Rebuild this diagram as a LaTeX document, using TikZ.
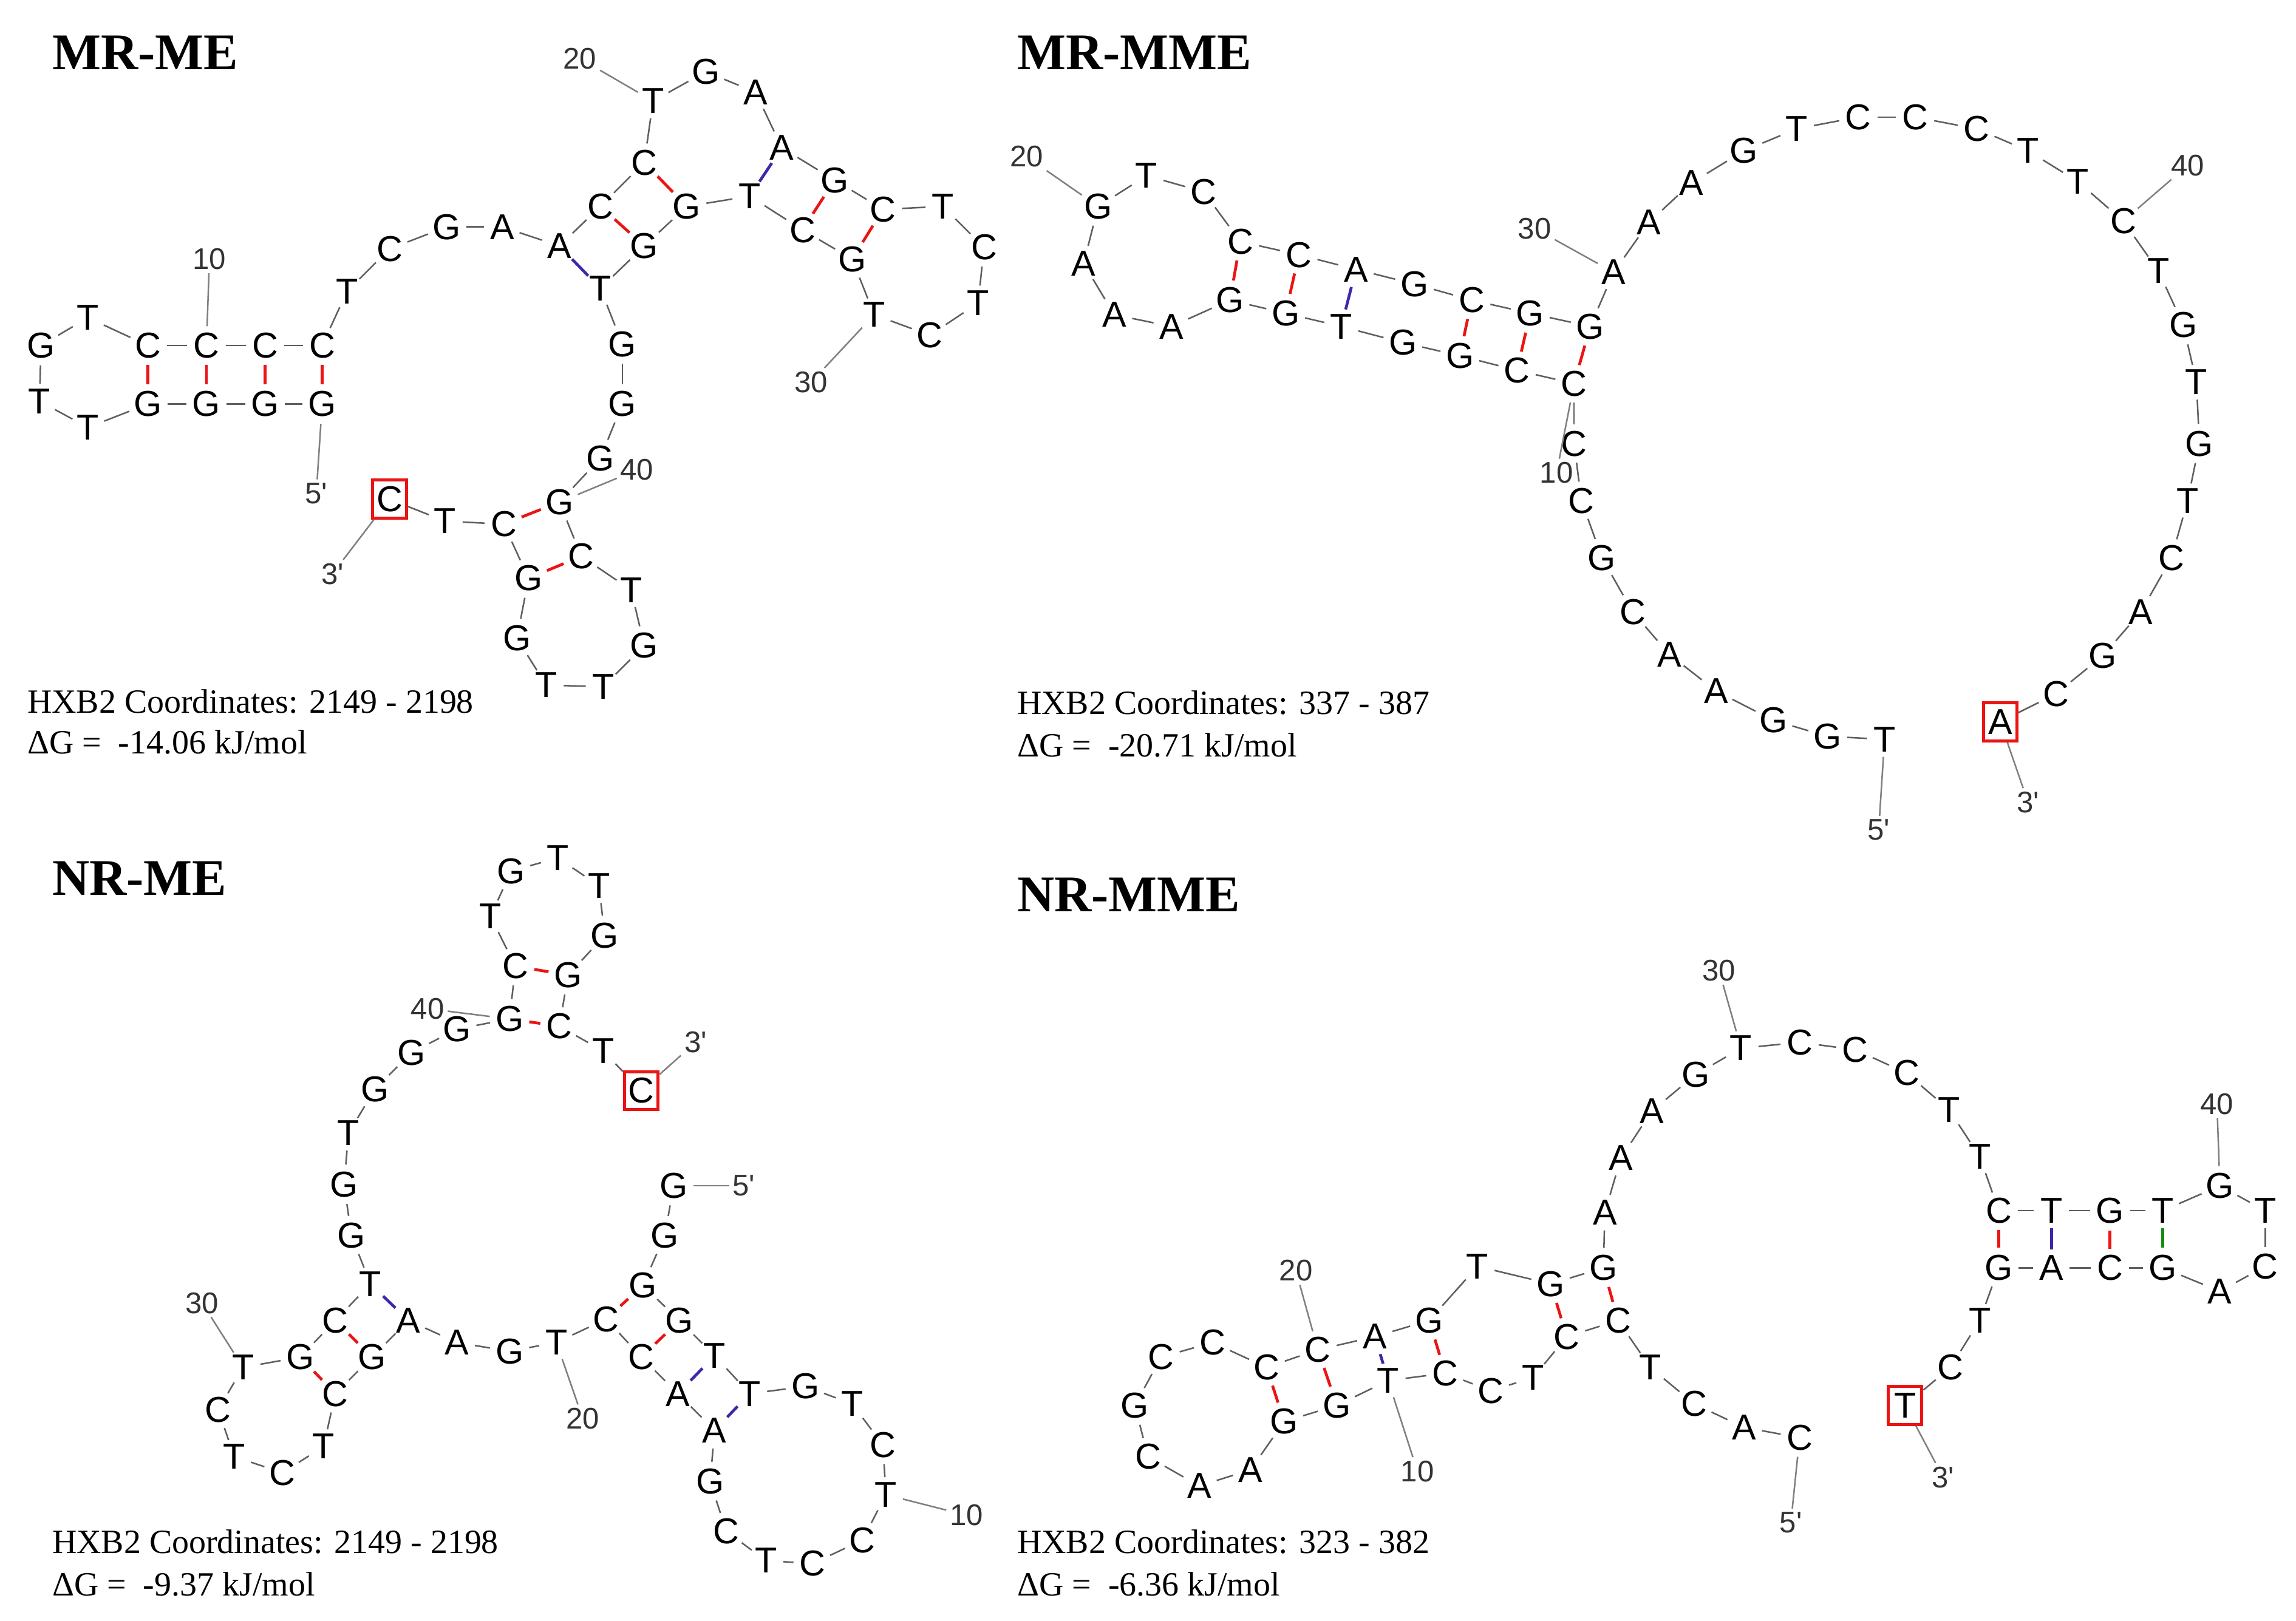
\documentclass[tikz,border=0pt]{standalone}
\usepackage{fontspec}
\setmainfont{Liberation Serif}
\newfontfamily\ntfont{Liberation Sans}
\definecolor{bbgray}{RGB}{95,95,95}
\definecolor{pr}{RGB}{235,20,20}
\definecolor{pb}{RGB}{60,40,170}
\definecolor{pg}{RGB}{20,140,20}
\tikzset{
  nt/.style={circle,inner sep=0pt,minimum size=2.1mm,font=\ntfont\fontsize{7}{7}\selectfont},
  bx/.style={rectangle,draw=pr,line width=0.6pt,minimum width=2.3mm,minimum height=2.6mm},
  bb/.style={draw=bbgray,line width=0.3pt},
  pairR/.style={draw=pr,line width=0.55pt},
  pairB/.style={draw=pb,line width=0.55pt},
  pairG/.style={draw=pg,line width=0.55pt},
  lbl/.style={inner sep=0.5pt,font=\ntfont\fontsize{5.8}{6}\selectfont,text=black!80},
  tk/.style={draw=gray,line width=0.3pt},
  ttl/.style={anchor=west,inner sep=0pt,font=\bfseries\fontsize{10}{12}\selectfont},
  crd/.style={anchor=west,inner sep=0pt,font=\fontsize{6.6}{7}\selectfont}
}
\begin{document}
\begin{tikzpicture}[x=0.1mm,y=-0.1mm]
\useasboundingbox (0,0) rectangle (1568,1107);
% ---------- Panel A: MR-ME
\foreach \i/\x/\y/\l in {1/220/276/G,2/181/276/G,3/141/276/G,4/101/276/G,5/60/292/T,6/27/274/T,7/28/236/G,8/60/217/T,9/101/236/C,10/141/236/C,11/181/236/C,12/220/236/C,13/237/199/T,14/266/170/C,15/305/155/G,16/343/155/A,17/382/168/A,18/410/141/C,19/440/111/C,20/446/69/T,21/482/49/G,22/516/63/A,23/534/101/A,24/570/123/G,25/603/143/C,26/644/141/T,27/672/169/C,28/668/207/T,29/635/229/C,30/597/215/T,31/582/177/G,32/548/157/C,33/512/134/T,34/469/141/G,35/440/168/G,36/410/197/T,37/425/235/G,38/425/276/G,39/410/313/G,40/382/343/G,41/397/380/C,42/431/403/T,43/440/441/G,44/412/469/T,45/373/468/T,46/353/436/G,47/361/395/G,48/344/358/C,49/304/356/T}
  {\node[nt] (a\i) at (\x,\y) {\l};}
\node[nt,bx] (a50) at (266,341) {C};
\foreach \i [evaluate=\i as \j using int(\i+1)] in {1,...,49} \draw[bb] (a\i) -- (a\j);
\foreach \p/\q in {9/4,10/3,11/2,12/1,18/35,19/34,24/32,25/31,40/48,41/47} \draw[pairR] (a\p) -- (a\q);
\foreach \p/\q in {17/36,23/33} \draw[pairB] (a\p) -- (a\q);
\foreach \i/\x/\y/\t in {10/143/177/10,20/396/40/20,30/554/261/30,40/435/321/40,1/216/337/5',50/227/392/3'}
  {\node[lbl] (al\i) at (\x,\y) {\t}; \draw[tk] (a\i) -- (al\i);}
\node[ttl] (ta) at (35,36) {MR-ME};
\node[crd] (ca1) at (18,479) {HXB2 Coordinates: 2149 - 2198};
\node[crd] (ca2) at (18,507) {ΔG =~ -14.06 kJ/mol};
% ---------- Panel B: MR-MME
\foreach \i/\x/\y/\l in {1/1287/505/T,2/1248/503/G,3/1211/492/G,4/1172/472/A,5/1140/447/A,6/1115/418/C,7/1094/381/G,8/1080/342/C,9/1075/303/C,10/1075/262/C,11/1036/253/C,12/997/243/G,13/958/234/G,14/916/223/T,15/878/214/G,16/840/205/G,17/800/223/A,18/761/215/A,19/740/180/A,20/750/141/G,21/783/120/T,22/822/131/C,23/847/165/C,24/887/174/C,25/926/184/A,26/966/194/G,27/1005/205/C,28/1045/214/G,29/1086/223/G,30/1102/186/A,31/1126/152/A,32/1155/125/A,33/1191/103/G,34/1227/88/T,35/1269/80/C,36/1308/80/C,37/1350/88/C,38/1385/103/T,39/1419/124/T,40/1450/151/C,41/1474/185/T,42/1491/222/G,43/1500/261/T,44/1502/303/G,45/1494/342/T,46/1483/381/C,47/1462/418/A,48/1436/448/G,49/1404/474/C}
  {\node[nt] (b\i) at (\x,\y) {\l};}
\node[nt,bx] (b50) at (1366,493) {A};
\foreach \i [evaluate=\i as \j using int(\i+1)] in {1,...,49} \draw[bb] (b\i) -- (b\j);
\foreach \p/\q in {10/29,11/28,12/27,15/24,16/23} \draw[pairR] (b\p) -- (b\q);
\draw[pairB] (b14) -- (b25);
\foreach \i/\x/\y/\t in {20/701/107/20,30/1048/156/30,40/1494/113/40,10/1063/323/10,1/1283/567/5',50/1385/548/3'}
  {\node[lbl] (bl\i) at (\x,\y) {\t}; \draw[tk] (b\i) -- (bl\i);}
\node[ttl] (tb) at (694,36) {MR-MME};
\node[crd] (cb1) at (694,480) {HXB2 Coordinates: 337 - 387};
\node[crd] (cb2) at (694,509) {ΔG =~ -20.71 kJ/mol};
% ---------- Panel C: NR-ME
\foreach \i/\x/\y/\l in {1/460/810/G,2/454/844/G,3/439/878/G,4/464/902/G,5/488/926/T,6/512/952/T,7/550/947/G,8/582/959/T,9/603/987/C,10/605/1021/T,11/589/1052/C,12/555/1068/C,13/523/1066/T,14/496/1046/C,15/485/1012/G,16/488/977/A,17/463/952/A,18/438/927/C,19/414/901/C,20/380/917/T,21/348/923/G,22/312/917/A,23/279/902/A,24/254/927/G,25/229/952/C,26/221/988/T,27/193/1006/C,28/160/995/T,29/149/963/C,30/166/934/T,31/205/927/G,32/229/902/C,33/253/877/T,34/240/844/G,35/235/809/G,36/238/774/T,37/256/744/G,38/281/719/G,39/312/703/G,40/348/696/G,41/352/660/C,42/335/626/T,43/349/595/G,44/381/586/T,45/409/605/T,46/413/639/G,47/388/666/G,48/382/701/C,49/412/718/T}
  {\node[nt] (c\i) at (\x,\y) {\l};}
\node[nt,bx] (c50) at (438,745) {C};
\foreach \i [evaluate=\i as \j using int(\i+1)] in {1,...,49} \draw[bb] (c\i) -- (c\j);
\foreach \p/\q in {3/19,4/18,24/32,25/31,40/48,41/47} \draw[pairR] (c\p) -- (c\q);
\foreach \p/\q in {5/17,6/16,23/33} \draw[pairB] (c\p) -- (c\q);
\foreach \i/\x/\y/\t in {10/660/1035/10,20/398/969/20,30/138/890/30,40/292/689/40,1/508/810/5',50/475/712/3'}
  {\node[lbl] (cl\i) at (\x,\y) {\t}; \draw[tk] (c\i) -- (cl\i);}
\node[ttl] (tc) at (35,600) {NR-ME};
\node[crd] (cc1) at (35,1053) {HXB2 Coordinates: 2149 - 2198};
\node[crd] (cc2) at (35,1082) {ΔG =~ -9.37 kJ/mol};
% ---------- Panel D: NR-MME
\foreach \i/\x/\y/\l in {1/1229/982/C,2/1191/975/A,3/1157/959/C,4/1127/934/T,5/1105/902/C,6/1070/913/C,7/1047/941/T,8/1018/950/C,9/987/938/C,10/948/943/T,11/913/960/G,12/877/971/G,13/854/1004/A,14/819/1015/A,15/784/995/C,16/775/960/G,17/793/927/C,18/828/917/C,19/865/934/C,20/900/922/C,21/939/913/A,22/976/902/G,23/1009/865/T,24/1059/877/G,25/1095/866/G,26/1096/828/A,27/1107/791/A,28/1128/759/A,29/1158/734/G,30/1189/716/T,31/1229/712/C,32/1267/717/C,33/1302/733/C,34/1331/758/T,35/1352/790/T,36/1365/827/C,37/1401/827/T,38/1441/827/G,39/1477/827/T,40/1516/810/G,41/1547/827/T,42/1547/865/C,43/1516/882/A,44/1477/866/G,45/1441/866/C,46/1401/866/A,47/1365/866/G,48/1352/902/T,49/1332/934/C}
  {\node[nt] (d\i) at (\x,\y) {\l};}
\node[nt,bx] (d50) at (1301,960) {T};
\foreach \i [evaluate=\i as \j using int(\i+1)] in {1,...,49} \draw[bb] (d\i) -- (d\j);
\foreach \p/\q in {5/25,6/24,9/22,11/20,12/19,36/47,38/45} \draw[pairR] (d\p) -- (d\q);
\foreach \p/\q in {10/21,37/46} \draw[pairB] (d\p) -- (d\q);
\draw[pairG] (d39) -- (d44);
\foreach \i/\x/\y/\t in {30/1174/663/30,20/885/868/20,10/968/1005/10,40/1514/754/40,1/1223/1040/5',50/1327/1009/3'}
  {\node[lbl] (dl\i) at (\x,\y) {\t}; \draw[tk] (d\i) -- (dl\i);}
\node[ttl] (td) at (694,611) {NR-MME};
\node[crd] (cd1) at (694,1053) {HXB2 Coordinates: 323 - 382};
\node[crd] (cd2) at (694,1082) {ΔG =~ -6.36 kJ/mol};
\end{tikzpicture}
\end{document}
